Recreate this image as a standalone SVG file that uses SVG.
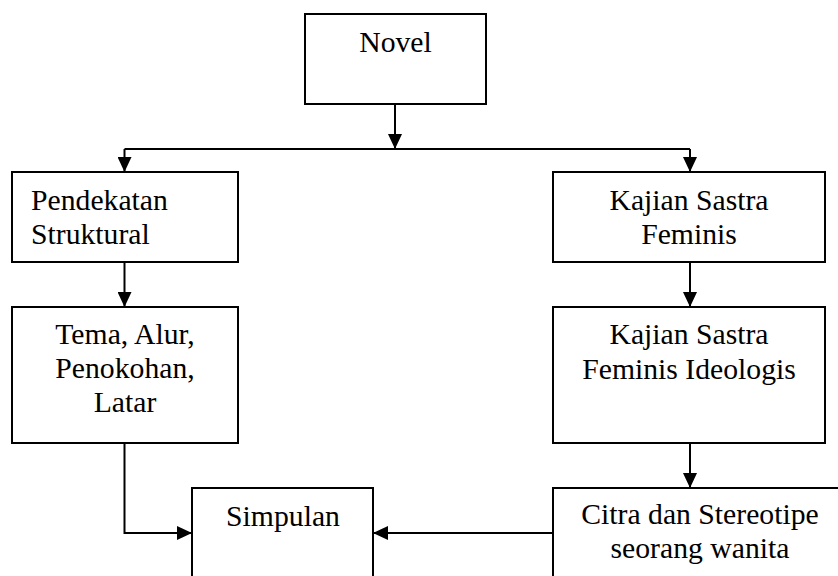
<svg xmlns="http://www.w3.org/2000/svg" width="838" height="576" viewBox="0 0 838 576">
<style>
rect.box{fill:#fff;stroke:#000;stroke-width:2}
text{font-family:"Liberation Serif","Times New Roman",serif;font-size:29.7px;fill:#000}
.c{text-anchor:middle}
.conn path{fill:none;stroke:#000;stroke-width:2}
</style>
<defs>
<marker id="arr" markerUnits="userSpaceOnUse" markerWidth="15" markerHeight="14" refX="15" refY="7" orient="auto">
<path d="M0,0 L15,7 L0,14 z" fill="#000"/>
</marker>
</defs>
<rect width="838" height="576" fill="#fff"/>
<g class="conn">
<path d="M395,104 L395,149" marker-end="url(#arr)"/>
<path d="M124.5,149 L690,149"/>
<path d="M124.5,149 L124.5,172" marker-end="url(#arr)"/>
<path d="M690,149 L690,172" marker-end="url(#arr)"/>
<path d="M124.5,262 L124.5,307" marker-end="url(#arr)"/>
<path d="M690,262 L690,307" marker-end="url(#arr)"/>
<path d="M690,443 L690,488" marker-end="url(#arr)"/>
<path d="M124.5,443 L124.5,533 L192,533" marker-end="url(#arr)"/>
<path d="M553,533 L373,533" marker-end="url(#arr)"/>
</g>
<g id="novel">
<rect class="box" x="305" y="14" width="181" height="90"/>
<text class="c" x="395.5" y="52">Novel</text>
</g>
<g id="pendekatan">
<rect class="box" x="12" y="172" width="226" height="90"/>
<text x="31" y="210">Pendekatan</text>
<text x="31" y="244">Struktural</text>
</g>
<g id="kajian">
<rect class="box" x="553" y="172" width="272" height="90"/>
<text class="c" x="689" y="210">Kajian Sastra</text>
<text class="c" x="689" y="244">Feminis</text>
</g>
<g id="tema">
<rect class="box" x="12" y="307" width="226" height="136"/>
<text class="c" x="125" y="344">Tema, Alur,</text>
<text class="c" x="125" y="378">Penokohan,</text>
<text class="c" x="125" y="412">Latar</text>
</g>
<g id="ideologis">
<rect class="box" x="553" y="307" width="272" height="136"/>
<text class="c" x="689" y="344">Kajian Sastra</text>
<text class="c" x="689" y="379">Feminis Ideologis</text>
</g>
<g id="simpulan">
<rect class="box" x="192" y="488" width="181" height="100"/>
<text class="c" x="283" y="526">Simpulan</text>
</g>
<g id="citra">
<rect class="box" x="553" y="488" width="294" height="100"/>
<text class="c" x="700" y="524">Citra dan Stereotipe</text>
<text class="c" x="700" y="558">seorang wanita</text>
</g>
</svg>
